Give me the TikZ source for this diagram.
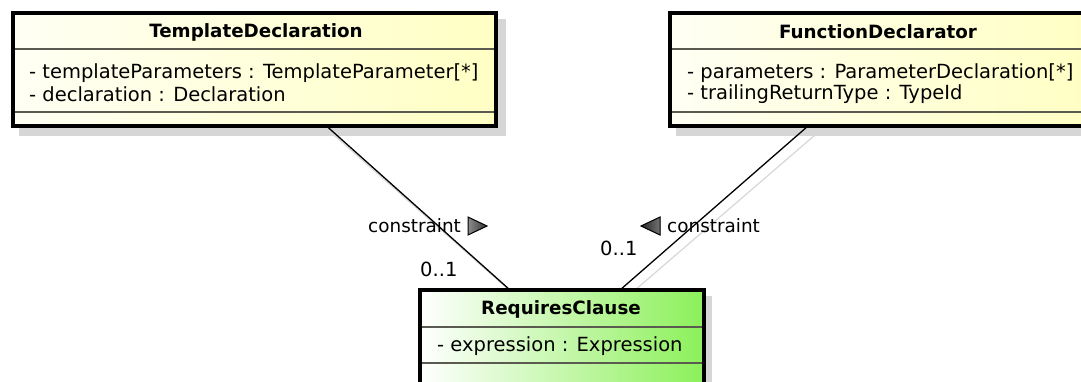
\documentclass[tikz,border=0pt]{standalone}
\usepackage{fontspec}
\setmainfont{DejaVu Sans}
\usetikzlibrary{calc}
\definecolor{ylw}{RGB}{255,255,196}
\definecolor{ylwl}{RGB}{255,255,244}
\definecolor{grn}{RGB}{140,240,90}
\definecolor{shd}{RGB}{214,214,214}
\definecolor{sepc}{RGB}{90,90,80}
\begin{document}
\begin{tikzpicture}[x=1pt,y=-1pt,
  txt/.style={font=\fontsize{19.5}{22}\selectfont, inner sep=0pt},
  ttl/.style={font=\fontsize{18.3}{22}\selectfont\bfseries, inner sep=0pt},
  attr/.style={txt, anchor=west},
  classbox/.style={draw=black, line width=4pt, inner sep=0pt, outer sep=0pt, rectangle},
  yclass/.style={classbox, left color=ylwl, right color=ylw},
  gclass/.style={classbox, left color=white, right color=grn},
  sepline/.style={draw=sepc, line width=1.5pt},
  assoc/.style={draw=black, line width=1.3pt},
  assocshadow/.style={draw=black!15, line width=1.3pt},
  role/.style={font=\fontsize{18.4}{22}\selectfont, inner sep=0pt, anchor=west},
  mult/.style={font=\fontsize{19.5}{22}\selectfont, inner sep=0pt, anchor=west},
  navtri/.style={draw=black, line width=1pt, line join=miter}
]
\useasboundingbox (0,0) rectangle (1081,381);

% shadows of boxes
\fill[shd] (19,19) rectangle (506,136);
\fill[shd] (676,19) rectangle (1094,136);
\fill[shd] (426,296) rectangle (712,410);

% association shadows
\draw[assocshadow] (334,135) -- (517,297);
\draw[assocshadow] (815,135) -- (627,297);

% class boxes
\node[yclass, minimum width=483pt, minimum height=113pt] (td) at (254.5,69.5) {};
\node[yclass, minimum width=416pt, minimum height=113pt] (fd) at (878,69.5) {};
\node[gclass, minimum width=284pt, minimum height=110pt] (rc) at (562,345) {};

% separators
\draw[sepline] ($(td.north west)+(2,36)$) -- ($(td.north east)+(-2,36)$);
\draw[sepline] ($(td.north west)+(2,99)$) -- ($(td.north east)+(-2,99)$);
\draw[sepline] ($(fd.north west)+(2,36)$) -- ($(fd.north east)+(-2,36)$);
\draw[sepline] ($(fd.north west)+(2,99)$) -- ($(fd.north east)+(-2,99)$);
\draw[sepline] ($(rc.north west)+(2,37)$) -- ($(rc.north east)+(-2,37)$);
\draw[sepline] ($(rc.north west)+(2,73)$) -- ($(rc.north east)+(-2,73)$);

% texts
\node[ttl] (tdt) at (256,32) {TemplateDeclaration};
\node[attr] (tda1) at (29,73) {- templateParameters : TemplateParameter[*]};
\node[attr] (tda2) at (29,94) {- declaration : Declaration};

\node[ttl] (fdt) at (878,32) {FunctionDeclarator};
\node[attr] (fda1) at (687,73) {- parameters : ParameterDeclaration[*]};
\node[attr] (fda2) at (687,94) {- trailingReturnType : TypeId};

\node[ttl] (rct) at (561,309) {RequiresClause};
\node[attr] (rca1) at (437,346) {- expression : Expression};

% associations
\draw[assoc] ([xshift=72pt]td.south) -- ([xshift=-52pt]rc.north);
\draw[assoc] ([xshift=-70pt]fd.south) -- ([xshift=58pt]rc.north);

% labels
\node[role] (c1) at (368,226) {constraint};
\filldraw[navtri, left color=black!45, right color=black!80] (468,217) -- (487,226) -- (468,235) -- cycle;
\node[mult] (m1) at (420,269) {0..1};

\node[role] (c2) at (667,226) {constraint};
\filldraw[navtri, left color=black!85, right color=black!55] (641,226) -- (660,217) -- (660,235) -- cycle;
\node[mult] (m2) at (600,248) {0..1};
\end{tikzpicture}
\end{document}
